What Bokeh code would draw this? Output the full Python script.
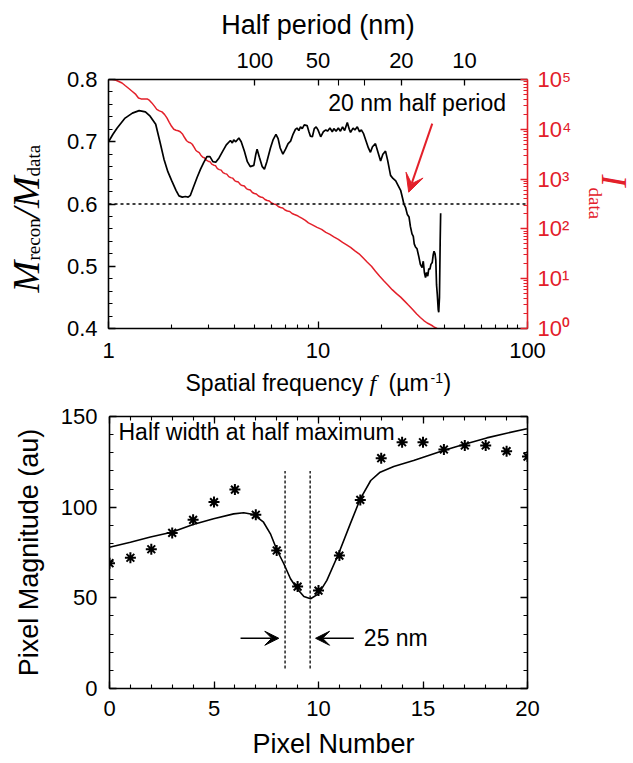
from math import pi
from bokeh.plotting import figure
from bokeh.models import (Range1d, LogScale, LogAxis, LinearAxis, FixedTicker,
                          SingleIntervalTicker, Span, Arrow, VeeHead, Label)
from bokeh.layouts import column, row
from bokeh.embed import file_html
from bokeh.resources import INLINE

# ---------------- top panel data ----------------
freq_ratio = [1.00, 1.05, 1.10, 1.20, 1.30, 1.40, 1.50, 1.58, 1.68, 1.76, 1.84, 1.92, 2.00, 2.10,
              2.17, 2.25, 2.33, 2.40, 2.46, 2.55, 2.65, 2.75, 2.85, 2.95, 3.05, 3.15, 3.25, 3.37,
              3.50, 3.65, 3.82, 3.90, 3.96, 4.05, 4.19, 4.30, 4.45, 4.60, 4.75, 4.94, 5.05, 5.12,
              5.25, 5.42, 5.55, 5.70, 5.93, 6.10, 6.30, 6.45, 6.60, 6.80, 7.00, 7.20, 7.40, 7.60,
              7.80, 7.94, 8.10, 8.25, 8.41, 8.60, 8.87, 9.05, 9.20, 9.40, 9.60, 9.80, 10.0, 10.3,
              10.6, 10.9, 11.1, 11.4, 11.7, 11.9, 12.2, 12.5, 12.8, 13.1, 13.4, 13.8, 14.1, 14.3,
              14.7, 15.0, 15.4, 15.8, 16.1, 16.5, 17.0, 17.4, 17.8, 18.2, 18.8, 19.3, 19.9, 20.4,
              21.0, 21.5, 22.2, 22.8, 23.5, 24.1, 24.8, 25.3, 25.7, 26.2, 26.7, 27.2, 27.6, 28.1,
              28.5, 28.8, 29.2, 29.7, 30.3, 30.8, 31.4, 31.8, 32.2, 32.6, 33.0, 33.4, 33.8, 34.2,
              34.6, 35.1, 35.5, 35.8, 36.2, 36.5, 36.8, 37.1, 37.5, 37.7, 38.0, 38.3, 38.5]
ratio = [0.700, 0.712, 0.722, 0.738, 0.746, 0.750, 0.748, 0.741, 0.728, 0.700, 0.672, 0.652, 0.638, 0.622,
         0.613, 0.611, 0.612, 0.611, 0.614, 0.628, 0.643, 0.656, 0.667, 0.676, 0.676, 0.668, 0.667, 0.674,
         0.684, 0.695, 0.702, 0.698, 0.703, 0.700, 0.706, 0.700, 0.685, 0.668, 0.660, 0.662, 0.680, 0.688,
         0.675, 0.660, 0.656, 0.668, 0.690, 0.703, 0.712, 0.705, 0.690, 0.680, 0.688, 0.697, 0.701, 0.712,
         0.720, 0.722, 0.718, 0.724, 0.721, 0.727, 0.726, 0.716, 0.709, 0.708, 0.721, 0.724, 0.719, 0.708,
         0.716, 0.719, 0.717, 0.722, 0.716, 0.721, 0.717, 0.722, 0.717, 0.724, 0.718, 0.731, 0.720, 0.715,
         0.722, 0.719, 0.724, 0.716, 0.719, 0.713, 0.700, 0.690, 0.683, 0.692, 0.697, 0.684, 0.669, 0.680,
         0.685, 0.670, 0.646, 0.641, 0.637, 0.630, 0.622, 0.610, 0.600, 0.594, 0.583, 0.579, 0.564, 0.552,
         0.548, 0.536, 0.531, 0.528, 0.515, 0.503, 0.498, 0.508, 0.490, 0.482, 0.490, 0.484, 0.496, 0.495,
         0.503, 0.506, 0.519, 0.524, 0.520, 0.510, 0.470, 0.455, 0.430, 0.426, 0.450, 0.540, 0.585]

freq_I = [1.00, 1.04, 1.08, 1.12, 1.16, 1.20, 1.25, 1.30, 1.35, 1.39, 1.43, 1.48, 1.53, 1.57, 1.61,
          1.66, 1.70, 1.75, 1.80, 1.85, 1.90, 1.95, 2.00, 2.05, 2.10, 2.15, 2.20, 2.26, 2.31, 2.36,
          2.41, 2.46, 2.51, 2.56, 2.61, 2.66, 2.71, 2.76, 2.82, 2.87, 2.93, 2.99, 3.05, 3.11, 3.18,
          3.24, 3.31, 3.38, 3.45, 3.52, 3.60, 3.67, 3.75, 3.83, 3.91, 4.00, 4.08, 4.17, 4.26, 4.35,
          4.45, 4.55, 4.65, 4.75, 4.86, 4.97, 5.08, 5.20, 5.32, 5.45, 5.58, 5.72, 5.86, 6.00, 6.15,
          6.30, 6.46, 6.62, 6.79, 6.96, 7.14, 7.33, 7.52, 7.72, 7.93, 8.15, 8.40, 8.70, 9.00, 9.40,
          9.90, 10.4, 10.9, 11.4, 11.9, 12.5, 13.1, 13.7, 14.3, 15.0, 15.7, 16.4, 17.2, 18.0, 18.8,
          19.7, 20.6, 21.6, 22.6, 23.7, 24.8, 25.9, 27.0, 28.3, 29.6, 30.8, 32.0, 33.2, 34.3, 35.3,
          36.2, 37.0]
log10_I = [5.00, 5.00, 4.99, 4.96, 4.93, 4.88, 4.82, 4.76, 4.70, 4.63, 4.61, 4.61, 4.61, 4.58, 4.53,
           4.46, 4.40, 4.37, 4.35, 4.30, 4.23, 4.14, 4.06, 4.00, 3.98, 3.97, 3.95, 3.90, 3.83, 3.77,
           3.74, 3.73, 3.70, 3.64, 3.58, 3.55, 3.53, 3.48, 3.44, 3.43, 3.38, 3.36, 3.35, 3.30, 3.28,
           3.27, 3.21, 3.19, 3.18, 3.13, 3.11, 3.10, 3.05, 3.03, 3.02, 2.97, 2.95, 2.94, 2.89, 2.87,
           2.86, 2.81, 2.79, 2.78, 2.73, 2.71, 2.70, 2.66, 2.64, 2.63, 2.59, 2.57, 2.56, 2.52, 2.50,
           2.49, 2.45, 2.43, 2.42, 2.38, 2.36, 2.35, 2.31, 2.29, 2.27, 2.24, 2.21, 2.17, 2.12, 2.08,
           2.03, 1.99, 1.93, 1.89, 1.84, 1.79, 1.73, 1.68, 1.63, 1.56, 1.50, 1.42, 1.33, 1.25, 1.15,
           1.05, 0.96, 0.87, 0.78, 0.70, 0.63, 0.55, 0.47, 0.38, 0.29, 0.22, 0.16, 0.11, 0.08, 0.05,
           0.02, 0.00]
intensity = [10 ** v for v in log10_I]

threshold = 0.6
x_major = [1, 10, 100]
half_period_major = [100, 50, 20, 10]      # nm
half_period_minor = [40, 30]               # nm
I_decades = [0, 1, 2, 3, 4, 5]
superscripts = {"0": "\u2070", "1": "\u00b9", "2": "\u00b2", "3": "\u00b3", "4": "\u2074", "5": "\u2075"}

# ---------------- bottom panel data ----------------
pixel = list(range(21))
magnitude = [69.1, 72.1, 76.8, 85.8, 93.0, 102.8, 109.7, 95.8, 76.1, 56.2, 54.0,
             73.3, 104.0, 127.0, 135.8, 135.8, 131.8, 134.0, 134.0, 130.9, 127.9]
fit_x = [0, 1.0, 1.96, 2.97, 4.0, 4.98, 5.94, 6.42, 6.89, 7.37, 7.7, 8.02, 8.34, 8.66, 8.98, 9.3,
         9.62, 10.0, 10.4, 10.96, 11.52, 12.0, 12.5, 12.95, 13.6, 14.55, 15.98, 16.94, 18.05, 19.0, 19.97]
fit_y = [77.9, 80.7, 83.5, 86.2, 90.4, 93.6, 96.3, 96.9, 96.0, 91.7, 85.3, 76.1, 68.8, 60.5, 55.0, 50.7,
         49.5, 52.2, 59.6, 74.3, 90.8, 104.6, 114.7, 119.3, 122.4, 125.7, 131.3, 134.6, 138.2, 140.8, 143.2]
hwhm_x = [8.4, 9.6]
hwhm_y0, hwhm_y1 = 11, 120

SANS = "Liberation Sans"
SERIF = "Liberation Serif"
RED = "#e3202a"


def style_axis(ax, color="black", tick_in=7, minor_in=4, size="22px", standoff=10):
    ax.axis_line_color = color
    ax.axis_line_width = 1.6
    ax.major_tick_line_color = color
    ax.minor_tick_line_color = color
    ax.major_tick_line_width = 1.3
    ax.minor_tick_line_width = 1.1
    ax.major_tick_in = tick_in
    ax.major_tick_out = 0
    ax.minor_tick_in = minor_in
    ax.minor_tick_out = 0
    ax.major_label_text_font = SANS
    ax.major_label_text_font_size = size
    ax.major_label_text_color = color
    ax.major_label_standoff = standoff
    ax.axis_label_text_font = SANS
    ax.axis_label_text_font_style = "normal"
    ax.axis_label_text_color = color


def slabel(p, x, y, text, size, font=SANS, style="normal", angle=0.0, color="black"):
    # anchored at the vertical middle of the text box
    p.add_layout(Label(x=x, y=y, x_units="screen", y_units="screen", text=text,
                       text_font=font, text_font_style=style, text_font_size=f"{size}px",
                       text_color=color, angle=angle, text_align="left",
                       text_baseline="middle"))


def spacer(w, h):
    s = figure(width=w, height=h, x_range=Range1d(0, 1), y_range=Range1d(0, 1),
               output_backend="svg", toolbar_location=None, min_border=0,
               x_axis_location=None, y_axis_location=None)
    s.outline_line_color = None
    s.grid.visible = False
    return s


# ================= top figure =================
p1 = figure(width=527, height=368, x_axis_type="log", x_range=Range1d(1, 100),
            y_range=Range1d(0.4, 0.8), output_backend="svg", toolbar_location=None,
            min_border_left=53, min_border_right=55, min_border_top=79, min_border_bottom=40)
p1.outline_line_color = None
p1.xgrid.visible = False
p1.ygrid.visible = False
p1.extra_y_ranges = {"I": Range1d(1, 1e5)}
p1.extra_y_scales = {"I": LogScale()}

xb = p1.xaxis[0]
style_axis(xb, standoff=14)
xb.ticker = FixedTicker(ticks=x_major,
                        minor_ticks=[k * d for d in (1, 10) for k in range(2, 10)])
xb.major_label_overrides = {t: str(t) for t in x_major}

yl = p1.yaxis[0]
style_axis(yl, standoff=11)
yl.ticker = SingleIntervalTicker(interval=0.1, num_minor_ticks=5)

top_ax = LogAxis()
style_axis(top_ax, tick_in=6, minor_in=6, standoff=12)
top_f = [1000.0 / (2 * hp) for hp in half_period_major]
top_ax.ticker = FixedTicker(ticks=top_f, minor_ticks=[1000.0 / (2 * hp) for hp in half_period_minor])
top_ax.major_label_overrides = {f: str(hp) for f, hp in zip(top_f, half_period_major)}
top_ax.axis_label = "Half period (nm)"
top_ax.axis_label_text_font_size = "27px"
top_ax.axis_label_standoff = 10
p1.add_layout(top_ax, "above")

right_ax = LogAxis(y_range_name="I")
style_axis(right_ax, color=RED, standoff=10)
right_ax.ticker = FixedTicker(ticks=[10 ** d for d in I_decades],
                             minor_ticks=[k * 10 ** d for d in I_decades[:-1] for k in range(2, 10)])
right_ax.major_label_overrides = {10 ** d: "10" + superscripts[str(d)] for d in I_decades}
p1.add_layout(right_ax, "right")

p1.add_layout(Span(location=threshold, dimension="width", line_color="black",
                   line_dash="3 3", line_width=1.3))
p1.line(freq_I, intensity, y_range_name="I", line_color=RED, line_width=1.5)
p1.line(freq_ratio, ratio, line_color="black", line_width=1.7)

p1.add_layout(Arrow(end=VeeHead(size=18, fill_color=RED, line_color=RED),
                    x_start=35.1, y_start=0.729, x_end=27.1, y_end=0.619,
                    line_color=RED, line_width=2))
p1.add_layout(Label(x=11.2, y=0.763, text="20 nm half period", text_font=SANS,
                    text_font_size="23px", text_baseline="middle", text_color="black"))

# left title  M_recon / M_data   (frame aligned with the top plot's frame)
left_t = spacer(55, 368)
slabel(left_t, 25.5, 36, "M", 38, SERIF, "italic", pi / 2)
slabel(left_t, 33, 68, "recon", 19, SERIF, "normal", pi / 2)
slabel(left_t, 25.5, 110, "/M", 38, SERIF, "italic", pi / 2)
slabel(left_t, 33, 152, "data", 19, SERIF, "normal", pi / 2)
# right title I_data
right_t = spacer(51, 368)
slabel(right_t, 31, 154, "I", 36, SERIF, "italic", -pi / 2, RED)
slabel(right_t, 13.4, 141, "data", 19, SERIF, "normal", -pi / 2, RED)
# bottom title of top panel (frame aligned with the bottom plot's frame)
bottom_t = spacer(633, 32)
slabel(bottom_t, 76, 17.5, "Spatial frequency", 23)
slabel(bottom_t, 260, 17.6, "f", 24, SERIF, "italic")
slabel(bottom_t, 279, 17.5, "(\u00b5m", 23)
slabel(bottom_t, 321, 22.5, "-1", 14)
slabel(bottom_t, 334, 17.5, ")", 23)

# ================= bottom figure =================
p2 = figure(width=633, height=326, x_range=Range1d(0, 20), y_range=Range1d(0, 150),
            output_backend="svg", toolbar_location=None,
            min_border_left=109, min_border_right=106, min_border_top=16, min_border_bottom=38)
p2.outline_line_color = None
p2.xgrid.visible = False
p2.ygrid.visible = False

bx = p2.xaxis[0]
style_axis(bx, tick_in=7, standoff=12)
bx.ticker = SingleIntervalTicker(interval=5, num_minor_ticks=5)
ly = p2.yaxis[0]
style_axis(ly, tick_in=7, standoff=12)
ly.ticker = SingleIntervalTicker(interval=50, num_minor_ticks=5)
ly.axis_label = "Pixel Magnitude (au)"
ly.axis_label_text_font_size = "27px"
ly.axis_label_standoff = 14

tx = LinearAxis()
style_axis(tx, tick_in=7, size="1px", standoff=0)
tx.ticker = SingleIntervalTicker(interval=5, num_minor_ticks=5)
tx.major_label_overrides = {t: "" for t in (0, 5, 10, 15, 20)}
p2.add_layout(tx, "above")
ry = LinearAxis()
style_axis(ry, tick_in=7, size="1px", standoff=0)
ry.ticker = SingleIntervalTicker(interval=50, num_minor_ticks=5)
ry.major_label_overrides = {t: "" for t in (0, 50, 100, 150)}
p2.add_layout(ry, "right")

p2.segment(x0=hwhm_x, y0=[hwhm_y0] * 2, x1=hwhm_x, y1=[hwhm_y1] * 2,
           line_color="black", line_dash="3 2", line_width=1.3)
p2.line(fit_x, fit_y, line_color="black", line_width=1.6)
p2.scatter(pixel, magnitude, marker="asterisk", size=11, line_width=2, line_color="black")

p2.add_layout(Arrow(end=VeeHead(size=14, fill_color="black"), x_start=6.27, y_start=27.7,
                    x_end=8.1, y_end=27.7, line_width=1.6))
p2.add_layout(Arrow(end=VeeHead(size=14, fill_color="black"), x_start=11.69, y_start=27.7,
                    x_end=9.86, y_end=27.7, line_width=1.6))
p2.add_layout(Label(x=12.17, y=27.7, text="25 nm", text_font=SANS, text_font_size="23px",
                    text_baseline="middle", text_color="black"))
p2.add_layout(Label(x=0.43, y=141.2, text="Half width at half maximum", text_font=SANS,
                    text_font_size="23px", text_baseline="middle", text_color="black"))

pix_t = spacer(633, 37)
slabel(pix_t, 143, 19.4, "Pixel Number", 27)

layout = column(row(left_t, p1, right_t, spacing=0), bottom_t, p2, pix_t, spacing=0)
open("out.html", "w").write(file_html(layout, INLINE))
